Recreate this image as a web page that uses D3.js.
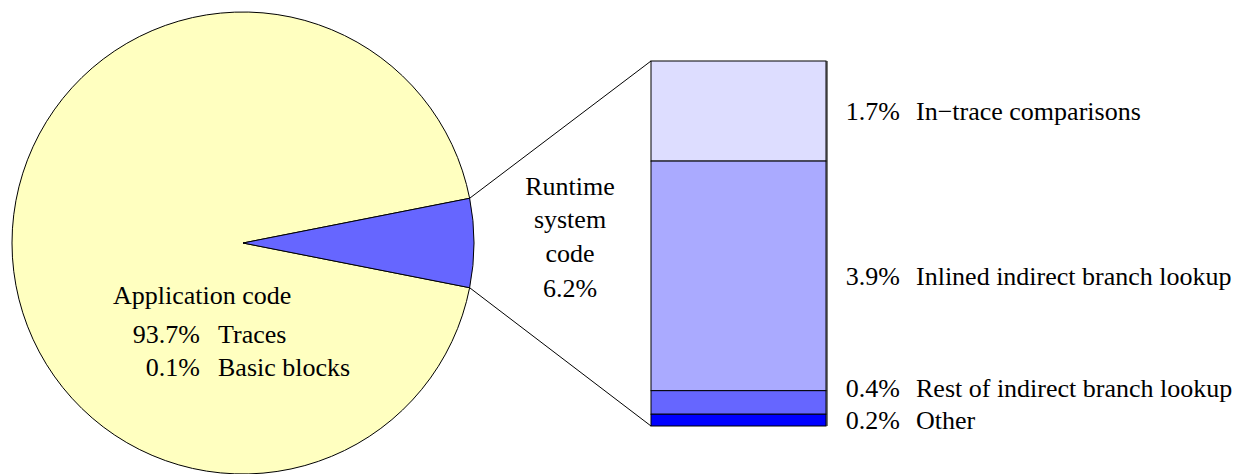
<!DOCTYPE html>
<html>
<head>
<meta charset="utf-8">
<script src="https://cdn.jsdelivr.net/npm/d3@7"></script>
<style>
  body { margin: 0; background: #fff; }
</style>
</head>
<body>
<div id="graphic"></div>
<script>
// top level split: application vs runtime system
var pieLabels = ["Application code", "Runtime system code"];
var pieValues = [93.8, 6.2];

// application code breakdown
var appParts = ["Traces", "Basic blocks"];
var appValues = [93.7, 0.1];

// runtime system code breakdown (top to bottom in the bar)
var rtParts = ["In\u2212trace comparisons", "Inlined indirect branch lookup",
               "Rest of indirect branch lookup", "Other"];
var rtValues = [1.7, 3.9, 0.4, 0.2];

var pieColors = ["#ffffc0", "#6666ff"];
var barColors = ["#ddddff", "#aaaaff", "#6666ff", "#0000ff"];

var w = 1243, h = 474;
var cx = 243, cy = 243, r = 231;
var barX = 651, barW = 175, barTop = 61, barBottom = 426;

var svg = d3.select("#graphic")
    .append("svg")
    .attr("width", w)
    .attr("height", h)
    .style("font-family", "'Liberation Serif', 'Times New Roman', Times, serif")
    .attr("font-size", 26);

// pie, runtime wedge centred on the right-hand horizontal
var total = d3.sum(pieValues);
var half = Math.PI * pieValues[1] / total;
var pie = d3.pie().sort(null)
    .startAngle(Math.PI / 2 + half)
    .endAngle(Math.PI / 2 + half + 2 * Math.PI);
var arcs = pie(pieValues);
var arc = d3.arc().innerRadius(0).outerRadius(r);

var g = svg.append("g").attr("transform", "translate(" + cx + "," + cy + ")");
g.selectAll("path")
   .data(arcs)
   .enter()
   .append("path")
   .attr("d", arc)
   .attr("fill", function(d, i){ return pieColors[i]; })
   .attr("stroke", "#000")
   .attr("stroke-width", 1);

// bar of the runtime part
var yScale = d3.scaleLinear()
    .domain([0, d3.sum(rtValues)])
    .range([barTop, barBottom]);

var cum = [0];
for (let i = 0; i < rtValues.length; i++){
    cum.push(cum[i] + rtValues[i]);
}

svg.append("line")
   .attr("x1", barX + barW + 1).attr("x2", barX + barW + 1)
   .attr("y1", yScale(0)).attr("y2", yScale(cum[cum.length - 1]))
   .attr("stroke", "#777").attr("stroke-width", 2);

svg.selectAll("rect.seg")
   .data(rtValues)
   .enter()
   .append("rect")
   .attr("class", "seg")
   .attr("x", barX)
   .attr("width", barW)
   .attr("y", function(d, i){ return yScale(cum[i]); })
   .attr("height", function(d, i){ return yScale(cum[i + 1]) - yScale(cum[i]); })
   .attr("fill", function(d, i){ return barColors[i]; })
   .attr("stroke", "#000")
   .attr("stroke-width", 1);

// connector lines from the wedge edges to the bar corners
// (startAngle of the runtime wedge is its upper edge)
var rtArc = arcs[1];
[rtArc.startAngle, rtArc.endAngle].forEach(function(a, i){
    let px = cx + r * Math.sin(a);
    let py = cy - r * Math.cos(a);
    svg.append("line")
       .attr("x1", px).attr("y1", py)
       .attr("x2", barX)
       .attr("y2", i == 0 ? yScale(0) : yScale(cum[cum.length - 1]))
       .attr("stroke", "#000")
       .attr("stroke-width", 1);
});

// labels for the bar segments, pushed apart when they would overlap
var labY = rtValues.map(function(d, i){ return (yScale(cum[i]) + yScale(cum[i + 1])) / 2 + 9; });
for (let i = labY.length - 2; i >= 0; i--){
    if (labY[i + 1] - labY[i] < 32) labY[i] = labY[i + 1] - 32;
}
svg.selectAll("text.rtpct")
   .data(rtValues)
   .enter()
   .append("text")
   .attr("x", 900)
   .attr("y", function(d, i){ return labY[i]; })
   .attr("text-anchor", "end")
   .text(function(d){ return d.toFixed(1) + "%"; });
svg.selectAll("text.rtname")
   .data(rtParts)
   .enter()
   .append("text")
   .attr("x", 916)
   .attr("y", function(d, i){ return labY[i]; })
   .text(function(d){ return d; });

// runtime label
var rtLines = ["Runtime", "system", "code", pieValues[1].toFixed(1) + "%"];
var rtLineY = [195, 228, 262, 297];
svg.selectAll("text.rtlab")
   .data(rtLines)
   .enter()
   .append("text")
   .attr("x", 570)
   .attr("y", function(d, i){ return rtLineY[i]; })
   .attr("text-anchor", "middle")
   .text(function(d){ return d; });

// application label
svg.append("text")
   .attr("x", 113).attr("y", 304)
   .text(pieLabels[0]);
var appY = [343, 376];
appValues.forEach(function(v, i){
    svg.append("text")
       .attr("x", 200).attr("y", appY[i])
       .attr("text-anchor", "end")
       .text(v.toFixed(1) + "%");
    svg.append("text")
       .attr("x", 218).attr("y", appY[i])
       .text(appParts[i]);
});
</script>
</body>
</html>
